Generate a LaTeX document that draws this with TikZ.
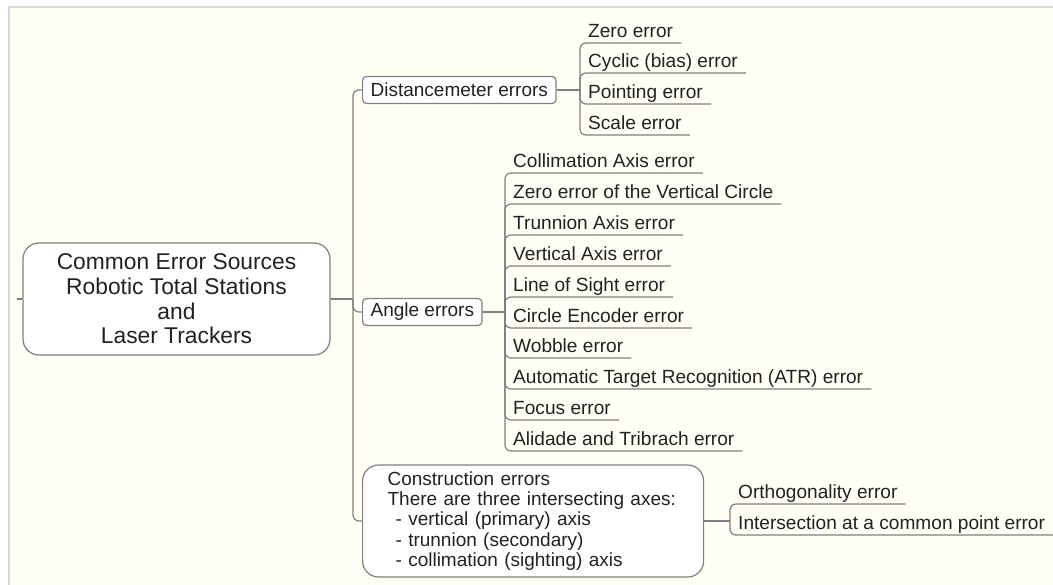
\documentclass[tikz,border=0pt]{standalone}
\usepackage{fontspec}
\setmainfont{Liberation Sans}
\usepackage{tikz}
\usetikzlibrary{
    positioning,           % Relative positioning
    calc                   % Coordinate calculations
}
\definecolor{PaperCream}{RGB}{255,255,246}
\definecolor{FrameGray}{RGB}{218,218,218}
\definecolor{BranchGray}{RGB}{128,128,128}
\definecolor{TextDark}{RGB}{34,34,34}
\tikzset{topic box/.style={
    rectangle,
    draw=BranchGray,
    line width=1.2pt,
    fill=white,
    rounded corners=4pt,
    text=TextDark,
    inner xsep=8pt,
    inner ysep=0pt,
    minimum height=27pt,
    anchor=west,
    font=\fontsize{19}{21}\selectfont
}}
\tikzset{topic box root/.style={
    topic box,
    rounded corners=16pt,
    anchor=center,
    align=center,
    minimum width=307pt,
    minimum height=112pt,
    font=\fontsize{22.8}{24.7}\selectfont
}}
\tikzset{topic box note/.style={
    topic box,
    rounded corners=16pt,
    align=left,
    inner xsep=25pt,
    text width=291pt,
    minimum height=112pt,
    font=\fontsize{19}{20.3}\selectfont
}}
\tikzset{leaf topic/.style={
    anchor=south west,
    inner xsep=8pt,
    inner ysep=5pt,
    text depth=0pt,
    text=TextDark,
    font=\fontsize{19.1}{21}\selectfont
}}
\tikzset{branch line/.style={
    draw=BranchGray,
    line width=1.2pt,
    rounded corners=6pt
}}

\begin{document}
\begin{tikzpicture}[x=1pt,y=-1pt]
    \useasboundingbox (0,0) rectangle (1053,585);
    \fill[white] (0,0) rectangle (1053,585);
    \fill[PaperCream] (9,7) rectangle (1053,585);
    \draw[FrameGray, line width=1.6pt] (1053,7) -- (9,7) -- (9,585);

    \node[topic box root] (root) at (176.5,299) {Common Error Sources\\Robotic Total Stations\\and\\Laser Trackers};
    \coordinate (root stub) at (17,299);
    \coordinate (main fork) at (353,299);

    \node[topic box] (dist) at (362,90) {Distancemeter errors};
    \node[topic box] (angle) at (362,312) {Angle errors};
    \node[topic box note] (constr) at (362,521) {Construction errors\\There are three intersecting axes:\\\hspace*{8pt}- vertical (primary) axis\\\hspace*{8pt}- trunnion (secondary)\\\hspace*{8pt}- collimation (sighting) axis};

    \coordinate (dist fork) at (580,90);
    \node[leaf topic] (zero) at (580,43) {Zero error};
    \node[leaf topic] (cyclic) at (580,73) {Cyclic (bias) error};
    \node[leaf topic] (pointing) at (580,104) {Pointing error};
    \node[leaf topic] (scale) at (580,135) {Scale error};

    \coordinate (angle fork) at (505,312);
    \node[leaf topic] (collim) at (505,173) {Collimation Axis error};
    \node[leaf topic] (zerovc) at (505,204) {Zero error of the Vertical Circle};
    \node[leaf topic] (trunnion) at (505,235) {Trunnion Axis error};
    \node[leaf topic] (vertaxis) at (505,266) {Vertical Axis error};
    \node[leaf topic] (sight) at (505,297) {Line of Sight error};
    \node[leaf topic] (encoder) at (505,328) {Circle Encoder error};
    \node[leaf topic] (wobble) at (505,358) {Wobble error};
    \node[leaf topic] (atr) at (505,389) {Automatic Target Recognition (ATR) error};
    \node[leaf topic] (focus) at (505,420) {Focus error};
    \node[leaf topic] (alidade) at (505,451) {Alidade and Tribrach error};

    \coordinate (constr fork) at (730,521);
    \node[leaf topic] (ortho) at (730,504) {Orthogonality error};
    \node[leaf topic] (inter) at (730,535) {Intersection at a common point error};

    \draw[branch line] (root stub) -- (root.west);
    \draw[branch line] (root.east) -- (main fork);
    \draw[branch line] (main fork) |- (dist.west);
    \draw[branch line] (main fork) |- (angle.west);
    \draw[branch line] (main fork) |- (constr.west);

    \draw[branch line] (dist.east) -- (dist fork);
    \draw[branch line] (dist fork) |- (zero.south east);
    \draw[branch line] (dist fork) |- (cyclic.south east);
    \draw[branch line] (dist fork) |- (pointing.south east);
    \draw[branch line] (dist fork) |- (scale.south east);

    \draw[branch line] (angle.east) -- (angle fork);
    \draw[branch line] (angle fork) |- (collim.south east);
    \draw[branch line] (angle fork) |- (zerovc.south east);
    \draw[branch line] (angle fork) |- (trunnion.south east);
    \draw[branch line] (angle fork) |- (vertaxis.south east);
    \draw[branch line] (angle fork) |- (sight.south east);
    \draw[branch line] (angle fork) |- (encoder.south east);
    \draw[branch line] (angle fork) |- (wobble.south east);
    \draw[branch line] (angle fork) |- (atr.south east);
    \draw[branch line] (angle fork) |- (focus.south east);
    \draw[branch line] (angle fork) |- (alidade.south east);

    \draw[branch line] (constr.east) -- (constr fork);
    \draw[branch line] (constr fork) |- (ortho.south east);
    \draw[branch line] (constr fork) |- (inter.south east);
\end{tikzpicture}
\end{document}
